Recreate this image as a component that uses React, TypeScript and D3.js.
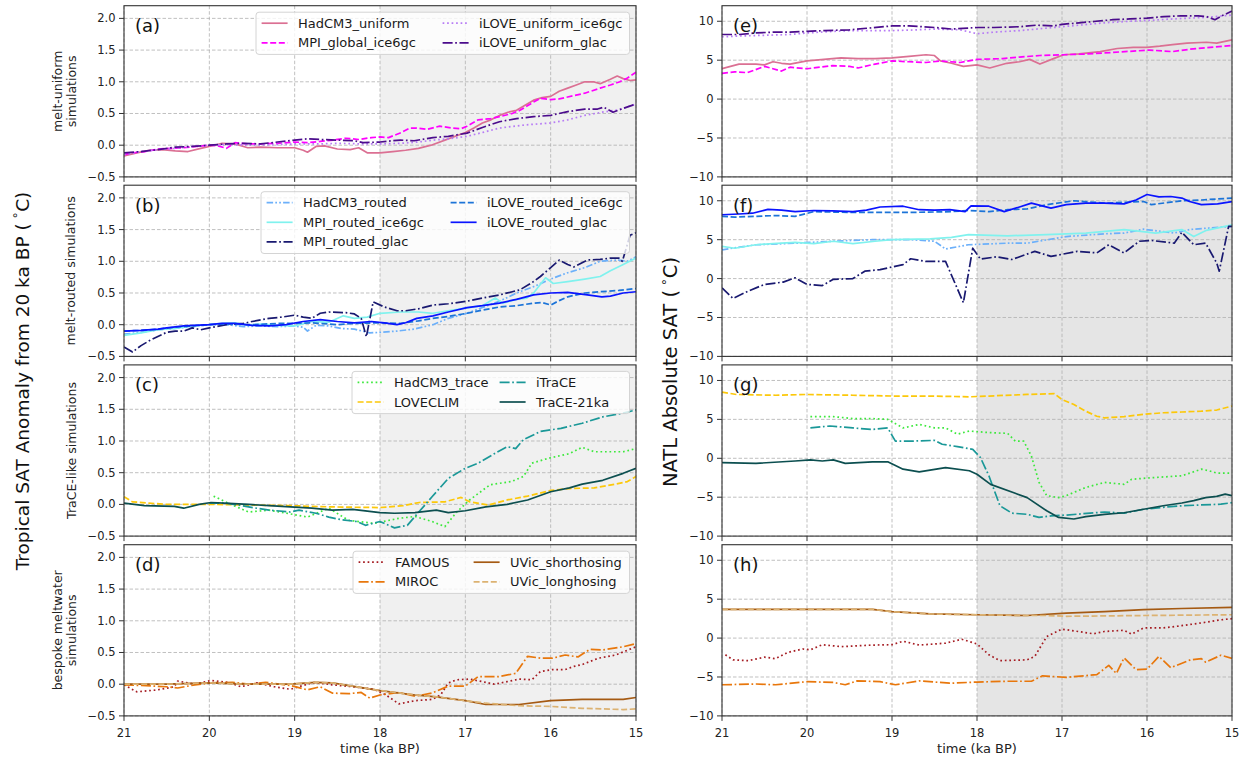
import React from "react";
import * as d3 from "d3";

type Pt = [number, number];

// ---------- axes / labels ----------
const timeTicks = [21, 20, 19, 18, 17, 16, 15];
const anomTicks = [-0.5, 0, 0.5, 1.0, 1.5, 2.0];
const absTicks = [-10, -5, 0, 5, 10];
const anomDomain: [number, number] = [-0.5, 2.2];
const absDomain: [number, number] = [-10, 12];
const shadeSpan: [number, number] = [18, 15];
const lettersLeft = ["(a)", "(b)", "(c)", "(d)"];
const lettersRight = ["(e)", "(f)", "(g)", "(h)"];
const groupLabels = [
  ["melt-uniform", "simulations"],
  ["melt-routed simulations"],
  ["TraCE-like simulations"],
  ["bespoke meltwater", "simulations"],
];
const groupSeries = [
  ["HadCM3_uniform", "MPI_global_ice6gc", "iLOVE_uniform_ice6gc", "iLOVE_uniform_glac"],
  ["HadCM3_routed", "MPI_routed_ice6gc", "MPI_routed_glac", "iLOVE_routed_ice6gc", "iLOVE_routed_glac"],
  ["HadCM3_trace", "LOVECLIM", "iTraCE", "TraCE-21ka"],
  ["FAMOUS", "MIROC", "UVic_shorthosing", "UVic_longhosing"],
];

// ---------- tropical anomaly series (panels a-d) ----------
const tropHadCM3Uniform: Pt[] = [[21,-0.17],[20.85,-0.12],[20.7,-0.08],[20.55,-0.07],[20.4,-0.09],[20.25,-0.1],[20.1,-0.05],[20.0,-0.02],[19.85,0.03],[19.7,0.02],[19.55,-0.04],[19.4,-0.03],[19.2,-0.04],[19.0,-0.04],[18.9,-0.08],[18.85,-0.11],[18.75,-0.02],[18.65,-0.01],[18.5,-0.06],[18.35,-0.07],[18.25,-0.04],[18.15,-0.12],[18.0,-0.12],[17.85,-0.1],[17.7,-0.08],[17.55,-0.05],[17.4,0.0],[17.2,0.1],[17.0,0.2],[16.9,0.27],[16.8,0.35],[16.7,0.4],[16.6,0.47],[16.5,0.52],[16.4,0.55],[16.3,0.63],[16.2,0.71],[16.1,0.75],[16.0,0.77],[15.9,0.85],[15.8,0.9],[15.7,0.95],[15.6,1.0],[15.5,1.0],[15.42,0.97],[15.3,1.04],[15.22,1.09],[15.15,1.05],[15.07,1.02],[15.0,1.03]];
const tropMPIGlobal: Pt[] = [[21,-0.15],[20.9,-0.12],[20.75,-0.1],[20.6,-0.06],[20.45,-0.05],[20.3,-0.04],[20.15,-0.02],[20.0,0.0],[19.9,-0.01],[19.8,-0.05],[19.7,0.04],[19.55,0.02],[19.4,0.02],[19.2,0.03],[19.0,0.05],[18.85,0.04],[18.7,0.06],[18.55,0.08],[18.4,0.11],[18.25,0.09],[18.1,0.12],[18.0,0.13],[17.9,0.12],[17.75,0.2],[17.65,0.27],[17.57,0.27],[17.45,0.25],[17.3,0.3],[17.15,0.27],[17.05,0.26],[16.98,0.3],[16.85,0.4],[16.7,0.42],[16.6,0.45],[16.45,0.5],[16.36,0.55],[16.2,0.68],[16.12,0.74],[16.0,0.72],[15.9,0.73],[15.8,0.76],[15.6,0.82],[15.42,0.9],[15.3,0.95],[15.19,1.0],[15.1,1.06],[15.0,1.15]];
const tropILOVEUniIce: Pt[] = [[21,-0.15],[20.8,-0.1],[20.6,-0.07],[20.4,-0.05],[20.2,-0.02],[20,0.0],[19.8,0.01],[19.5,0.0],[19.2,0.01],[19,0.02],[18.7,0.02],[18.5,0.03],[18.2,0.02],[18.0,0.02],[17.76,0.03],[17.55,0.05],[17.38,0.08],[17.2,0.1],[16.98,0.14],[16.8,0.2],[16.6,0.27],[16.3,0.32],[16.0,0.35],[15.8,0.4],[15.6,0.47],[15.4,0.52],[15.2,0.56],[15.0,0.65]];
const tropILOVEUniGlac: Pt[] = [[21,-0.12],[20.8,-0.1],[20.6,-0.07],[20.4,-0.03],[20.2,-0.02],[20.0,0.0],[19.8,0.02],[19.6,0.03],[19.4,0.02],[19.2,0.05],[19.0,0.08],[18.85,0.1],[18.7,0.09],[18.5,0.08],[18.3,0.07],[18.2,0.04],[18.0,0.05],[17.85,0.07],[17.76,0.08],[17.6,0.07],[17.38,0.12],[17.2,0.14],[16.98,0.19],[16.8,0.28],[16.6,0.37],[16.4,0.42],[16.2,0.45],[16.0,0.47],[15.8,0.53],[15.6,0.57],[15.45,0.57],[15.38,0.6],[15.27,0.52],[15.15,0.58],[15.0,0.65]];

const tropHadCM3Routed: Pt[] = [[21,-0.15],[20.8,-0.12],[20.6,-0.08],[20.4,-0.06],[20.2,-0.03],[20.0,0.0],[19.8,0.0],[19.6,-0.03],[19.4,-0.02],[19.2,-0.03],[19.0,-0.02],[18.9,-0.04],[18.85,-0.1],[18.75,-0.01],[18.6,-0.02],[18.45,-0.06],[18.3,-0.07],[18.12,-0.13],[18.0,-0.12],[17.8,-0.1],[17.6,-0.07],[17.38,0.0],[17.2,0.1],[16.98,0.18],[16.8,0.27],[16.6,0.37],[16.4,0.5],[16.2,0.6],[16.0,0.72],[15.8,0.82],[15.6,0.9],[15.42,1.0],[15.22,1.02],[15.1,1.0],[15.0,1.07]];
const tropMPIRoutedIce: Pt[] = [[21,-0.17],[20.8,-0.13],[20.6,-0.08],[20.4,-0.06],[20.2,-0.02],[20.0,0.0],[19.85,0.02],[19.7,0.03],[19.55,-0.01],[19.4,0.01],[19.2,-0.01],[19.0,-0.02],[18.8,0.05],[18.6,0.04],[18.43,0.14],[18.3,0.1],[18.15,0.12],[18.0,0.18],[17.76,0.2],[17.55,0.2],[17.38,0.18],[17.2,0.22],[17.0,0.26],[16.8,0.3],[16.65,0.42],[16.56,0.34],[16.4,0.4],[16.28,0.42],[16.2,0.5],[16.06,0.74],[15.97,0.65],[15.8,0.68],[15.6,0.72],[15.42,0.76],[15.3,0.85],[15.15,0.95],[15.0,1.05]];
const tropMPIRoutedGlac: Pt[] = [[21,-0.35],[20.9,-0.43],[20.8,-0.33],[20.7,-0.25],[20.5,-0.12],[20.4,-0.1],[20.3,-0.1],[20.2,-0.05],[20.1,-0.08],[20.0,-0.05],[19.8,0.0],[19.6,0.02],[19.5,0.05],[19.3,0.1],[19.15,0.12],[19.0,0.15],[18.9,0.12],[18.8,0.1],[18.7,0.18],[18.6,0.2],[18.4,0.19],[18.3,0.17],[18.22,0.1],[18.16,-0.19],[18.08,0.36],[17.95,0.28],[17.8,0.22],[17.7,0.22],[17.55,0.25],[17.38,0.31],[17.2,0.33],[16.98,0.37],[16.8,0.42],[16.6,0.47],[16.45,0.52],[16.36,0.55],[16.2,0.68],[16.12,0.76],[16.0,0.9],[15.9,1.02],[15.8,0.95],[15.73,0.91],[15.57,1.02],[15.42,1.03],[15.3,1.05],[15.2,1.05],[15.16,1.0],[15.07,1.41],[15.0,1.45]];
const tropILOVERoutedIce: Pt[] = [[21,-0.1],[20.8,-0.09],[20.6,-0.07],[20.4,-0.04],[20.2,-0.02],[20.0,0.0],[19.8,0.01],[19.5,0.0],[19.2,0.02],[19.0,0.02],[18.8,0.03],[18.5,0.0],[18.3,0.02],[18.0,0.03],[17.76,0.02],[17.55,0.06],[17.38,0.1],[17.2,0.13],[16.98,0.18],[16.8,0.23],[16.6,0.28],[16.4,0.3],[16.2,0.34],[16.1,0.35],[16.0,0.31],[15.9,0.38],[15.8,0.44],[15.6,0.5],[15.42,0.52],[15.2,0.54],[15.0,0.57]];
const tropILOVERoutedGlac: Pt[] = [[21,-0.1],[20.8,-0.09],[20.6,-0.07],[20.5,-0.05],[20.3,-0.02],[20.0,0.0],[19.85,0.02],[19.7,0.02],[19.5,-0.01],[19.3,-0.02],[19.1,0.0],[18.9,0.05],[18.7,0.08],[18.5,0.05],[18.3,0.03],[18.1,0.05],[17.95,0.03],[17.8,0.0],[17.7,0.03],[17.57,0.1],[17.38,0.14],[17.2,0.2],[16.98,0.27],[16.8,0.3],[16.6,0.34],[16.4,0.4],[16.2,0.47],[16.0,0.5],[15.8,0.51],[15.57,0.47],[15.4,0.44],[15.3,0.45],[15.15,0.5],[15.0,0.52]];

const tropHadCM3Trace: Pt[] = [[19.95,0.13],[19.78,0.02],[19.54,-0.12],[19.3,-0.09],[19.05,-0.15],[18.85,-0.2],[18.6,-0.06],[18.37,-0.25],[18.07,-0.3],[17.78,-0.22],[17.59,-0.19],[17.39,-0.27],[17.24,-0.35],[17.1,-0.12],[16.95,0.07],[16.71,0.31],[16.46,0.36],[16.32,0.44],[16.22,0.65],[16.02,0.73],[15.78,0.8],[15.63,0.9],[15.49,0.83],[15.15,0.83],[15.0,0.88]];
const tropLOVECLIM: Pt[] = [[21,0.12],[20.9,0.04],[20.5,0.0],[20.0,0.0],[19.54,-0.01],[19.05,-0.02],[18.56,-0.04],[18.0,-0.05],[17.73,-0.02],[17.54,0.03],[17.24,0.04],[17.05,0.11],[16.95,0.04],[16.73,-0.01],[16.51,0.07],[16.27,0.13],[16.0,0.22],[15.78,0.25],[15.49,0.26],[15.24,0.32],[15.1,0.36],[15.0,0.44]];
const tropITraCE: Pt[] = [[20.0,0.02],[19.8,0.02],[19.54,-0.04],[19.3,-0.09],[19.05,-0.12],[18.95,-0.09],[18.75,-0.14],[18.6,-0.2],[18.46,-0.24],[18.27,-0.27],[18.17,-0.33],[18.0,-0.27],[17.83,-0.37],[17.68,-0.33],[17.59,-0.19],[17.39,0.12],[17.2,0.41],[17.0,0.57],[16.85,0.65],[16.66,0.8],[16.51,0.91],[16.41,0.88],[16.32,1.02],[16.12,1.15],[15.88,1.2],[15.63,1.28],[15.39,1.38],[15.15,1.44],[15.0,1.49]];
const tropTraCE21ka: Pt[] = [[21,0.02],[20.76,-0.02],[20.41,-0.03],[20.3,-0.06],[20.12,0.0],[19.98,0.03],[19.83,0.02],[19.54,0.0],[19.3,-0.02],[19.05,-0.04],[18.8,-0.06],[18.56,-0.09],[18.32,-0.08],[18.0,-0.13],[17.83,-0.14],[17.59,-0.13],[17.34,-0.09],[17.2,-0.13],[17.0,-0.1],[16.76,-0.04],[16.51,0.0],[16.27,0.07],[16.0,0.2],[15.78,0.26],[15.63,0.32],[15.39,0.38],[15.15,0.49],[15.0,0.57]];

const tropFAMOUS: Pt[] = [[21,-0.01],[20.85,-0.12],[20.61,-0.09],[20.41,-0.04],[20.37,0.05],[20.17,0.0],[19.98,0.06],[19.78,0.03],[19.63,-0.04],[19.44,0.02],[19.24,-0.04],[19.05,-0.08],[18.85,0.0],[18.76,0.03],[18.56,-0.01],[18.32,-0.04],[18.07,-0.08],[17.93,-0.17],[17.78,-0.31],[17.59,-0.26],[17.39,-0.24],[17.29,-0.17],[17.2,0.02],[17.1,0.07],[16.95,0.08],[16.8,0.04],[16.66,0.0],[16.51,0.04],[16.37,0.08],[16.22,0.07],[16.12,0.2],[15.98,0.23],[15.83,0.23],[15.73,0.28],[15.63,0.31],[15.44,0.41],[15.24,0.46],[15.0,0.59]];
const tropMIROC: Pt[] = [[21,-0.01],[20.8,-0.02],[20.5,-0.04],[20.37,-0.06],[20.17,-0.01],[19.98,0.02],[19.73,0.03],[19.54,0.0],[19.34,0.03],[19.05,-0.02],[18.85,-0.09],[18.7,-0.04],[18.56,-0.14],[18.37,-0.15],[18.22,-0.13],[18.12,-0.22],[18.0,-0.17],[17.78,-0.13],[17.59,-0.19],[17.39,-0.14],[17.2,-0.03],[17.0,-0.03],[16.85,0.12],[16.61,0.12],[16.41,0.17],[16.27,0.44],[16.12,0.41],[15.98,0.41],[15.83,0.46],[15.68,0.43],[15.54,0.55],[15.39,0.54],[15.15,0.59],[15.0,0.64]];
const tropUVicShort: Pt[] = [[21,0.0],[20.5,0.0],[20.0,0.02],[19.54,0.0],[19.05,0.0],[18.76,0.03],[18.56,0.02],[18.0,-0.1],[17.59,-0.17],[17.34,-0.2],[17.0,-0.26],[16.76,-0.32],[16.37,-0.32],[16.0,-0.26],[15.63,-0.24],[15.15,-0.24],[15.0,-0.21]];
const tropUVicLong: Pt[] = [[21,0.0],[20.5,0.0],[20.0,0.02],[19.54,0.0],[19.05,0.0],[18.76,0.03],[18.56,0.02],[18.0,-0.1],[17.59,-0.17],[17.34,-0.2],[17.0,-0.26],[16.76,-0.3],[16.37,-0.34],[16.0,-0.35],[15.63,-0.38],[15.15,-0.4],[15.0,-0.39]];

// ---------- NATL absolute series (panels e-h) ----------
const natlHadCM3Uniform: Pt[] = [[21,3.9],[20.9,4.2],[20.8,4.5],[20.6,4.5],[20.5,4.4],[20.4,4.8],[20.3,4.6],[20.2,4.5],[20.0,4.9],[19.8,5.1],[19.6,5.3],[19.4,5.2],[19.2,5.2],[19.0,5.3],[18.8,5.5],[18.6,5.7],[18.5,5.6],[18.43,4.9],[18.3,4.6],[18.16,4.2],[18.0,4.4],[17.85,4.0],[17.65,4.6],[17.5,4.8],[17.38,5.1],[17.26,4.5],[17.1,5.2],[16.98,5.7],[16.8,5.8],[16.55,6.1],[16.35,6.5],[16.16,6.65],[16.0,6.65],[15.85,6.8],[15.7,7.0],[15.53,7.2],[15.3,7.3],[15.18,7.2],[15.0,7.6]];
const natlMPIGlobal: Pt[] = [[21,3.3],[20.85,3.5],[20.7,3.4],[20.5,4.2],[20.3,3.6],[20.2,4.1],[20.0,3.9],[19.85,4.1],[19.7,4.3],[19.5,4.2],[19.4,4.0],[19.2,4.5],[19.0,4.9],[18.8,4.8],[18.6,4.7],[18.43,4.9],[18.2,4.7],[18.0,5.1],[17.7,5.2],[17.5,5.4],[17.26,5.6],[16.98,5.7],[16.7,5.8],[16.4,6.0],[15.97,6.3],[15.7,6.1],[15.5,6.4],[15.3,6.6],[15.0,6.9]];
const natlILOVEUniIce: Pt[] = [[21,8.0],[20.8,8.1],[20.5,8.2],[20.2,8.3],[20,8.5],[19.7,8.7],[19.5,8.8],[19.0,8.8],[18.7,8.9],[18.5,9.0],[18.2,8.9],[18.0,8.4],[17.8,8.6],[17.5,8.8],[17.3,9.0],[17.0,9.3],[16.7,9.6],[16.5,9.8],[16.2,10.0],[16.0,10.1],[15.7,10.3],[15.5,10.4],[15.3,10.5],[15.0,10.8]];
const natlILOVEUniGlac: Pt[] = [[21,8.3],[20.8,8.3],[20.6,8.5],[20.4,8.6],[20.2,8.6],[20,8.7],[19.8,8.8],[19.5,8.9],[19.3,9.1],[19.0,9.4],[18.8,9.4],[18.5,9.2],[18.3,9.0],[18.0,9.2],[17.8,9.2],[17.5,9.3],[17.3,9.5],[17.1,9.4],[17.0,9.6],[16.8,9.8],[16.6,10.0],[16.4,10.2],[16.2,10.3],[16.0,10.4],[15.8,10.6],[15.6,10.7],[15.4,10.7],[15.3,10.6],[15.2,10.2],[15.1,10.8],[15.0,11.3]];

const natlHadCM3Routed: Pt[] = [[21,3.7],[20.6,4.35],[20.14,4.55],[19.69,4.8],[19.23,5.0],[18.78,5.0],[18.5,4.8],[18.37,3.8],[18.1,4.35],[17.64,4.55],[17.41,4.55],[16.95,5.4],[16.5,5.75],[16.27,5.85],[16.04,6.35],[15.68,5.85],[15.5,6.3],[15.27,6.5],[15.0,6.7]];
const natlMPIRoutedIce: Pt[] = [[21,4.15],[20.85,3.9],[20.6,4.35],[20.4,4.5],[20.14,4.65],[19.92,4.5],[19.69,4.8],[19.46,4.5],[19.2,4.8],[19.0,5.0],[18.55,5.1],[18.3,5.3],[18.1,5.65],[17.64,5.5],[17.18,5.65],[16.72,5.85],[16.27,6.3],[16.1,6.1],[15.9,5.85],[15.59,6.3],[15.45,5.4],[15.3,6.2],[15.0,6.9]];
const natlMPIRoutedGlac: Pt[] = [[21,-1.2],[20.87,-2.55],[20.69,-1.6],[20.5,-0.75],[20.28,-0.45],[20.14,0.1],[20.0,-0.75],[19.82,-0.9],[19.69,-0.1],[19.46,0.0],[19.32,0.95],[19.14,1.15],[18.87,1.8],[18.78,2.55],[18.6,2.2],[18.37,2.2],[18.16,-3.1],[18.05,3.9],[17.96,2.5],[17.77,2.8],[17.59,2.45],[17.32,3.5],[17.13,2.85],[16.82,3.5],[16.59,3.3],[16.45,4.35],[16.27,3.3],[16.09,4.8],[15.95,4.9],[15.68,4.55],[15.59,5.95],[15.45,4.35],[15.31,4.55],[15.18,2.0],[15.15,0.95],[15.04,6.7],[15.0,6.7]];
const natlILOVERoutedIce: Pt[] = [[21,8.0],[20.85,7.9],[20.6,8.0],[20.37,8.1],[20.14,8.0],[19.92,8.6],[19.46,8.5],[18.78,8.5],[18.3,8.6],[18.1,8.75],[17.86,8.6],[17.64,8.85],[17.41,8.95],[17.18,9.5],[16.86,10.0],[16.5,9.7],[16.04,9.9],[15.95,9.5],[15.59,10.0],[15.36,10.1],[15.0,10.35]];
const natlILOVERoutedGlac: Pt[] = [[21,8.2],[20.8,8.3],[20.64,8.4],[20.46,8.9],[20.3,8.8],[20.14,8.6],[19.92,8.75],[19.7,8.7],[19.46,8.6],[19.3,8.8],[19.14,9.2],[18.87,9.3],[18.68,8.85],[18.5,8.8],[18.32,8.85],[18.14,8.6],[18.07,9.35],[17.86,9.3],[17.68,8.6],[17.5,9.2],[17.36,9.7],[17.13,9.05],[16.95,9.5],[16.72,9.7],[16.5,9.7],[16.27,9.6],[16.13,10.1],[16.0,10.8],[15.86,10.5],[15.72,10.55],[15.59,10.35],[15.5,9.9],[15.36,9.5],[15.17,9.6],[15.0,9.9]];

const natlHadCM3Trace: Pt[] = [[19.96,5.35],[19.69,5.35],[19.46,5.1],[19.23,5.1],[19.05,5.0],[18.87,3.9],[18.68,4.35],[18.5,3.9],[18.37,3.9],[18.23,3.1],[18.09,3.5],[17.86,3.3],[17.64,3.2],[17.55,2.2],[17.45,2.2],[17.36,0.3],[17.27,-3.1],[17.18,-4.8],[17.04,-5.05],[16.95,-4.8],[16.72,-3.75],[16.5,-3.1],[16.27,-3.35],[16.18,-2.7],[15.95,-2.5],[15.59,-2.25],[15.36,-1.4],[15.27,-1.6],[15.18,-1.9],[15.0,-1.9]];
const natlLOVECLIM: Pt[] = [[21,8.5],[20.83,8.2],[20.37,8.1],[20.0,8.2],[19.46,8.1],[19.0,8.0],[18.55,8.0],[18.09,7.9],[17.86,8.0],[17.41,8.2],[17.09,8.3],[17.0,7.55],[16.86,6.9],[16.72,6.05],[16.59,5.4],[16.5,5.2],[16.27,5.35],[16.04,5.65],[15.81,5.85],[15.59,5.95],[15.36,6.05],[15.18,6.2],[15.0,6.7]];
const natlITraCE: Pt[] = [[19.96,3.9],[19.73,4.15],[19.46,3.9],[19.23,3.7],[19.05,3.9],[18.96,2.2],[18.78,2.2],[18.5,2.3],[18.41,1.8],[18.23,1.5],[18.05,1.15],[17.96,0.1],[17.86,-2.25],[17.73,-6.1],[17.59,-7.05],[17.41,-7.2],[17.27,-7.6],[17.13,-7.4],[16.95,-7.3],[16.5,-6.9],[16.27,-7.05],[16.04,-6.55],[15.81,-6.3],[15.59,-6.1],[15.36,-6.0],[15.13,-5.9],[15.0,-5.7]];
const natlTraCE21ka: Pt[] = [[21,-0.55],[20.6,-0.65],[20.14,-0.35],[19.96,-0.2],[19.82,-0.35],[19.69,-0.2],[19.55,-0.65],[19.23,-0.45],[19.05,-0.45],[18.87,-1.4],[18.68,-1.75],[18.37,-1.2],[18.09,-1.6],[18.0,-2.05],[17.84,-3.35],[17.55,-4.5],[17.41,-5.05],[17.18,-6.75],[17.04,-7.6],[16.86,-7.8],[16.72,-7.5],[16.5,-7.2],[16.27,-7.0],[16.04,-6.55],[15.81,-6.1],[15.59,-5.75],[15.45,-5.45],[15.31,-5.05],[15.18,-4.9],[15.08,-4.6],[15.0,-4.8]];

const natlFAMOUS: Pt[] = [[20.96,-2.15],[20.87,-2.8],[20.69,-2.9],[20.5,-2.45],[20.37,-2.65],[20.23,-1.85],[20.05,-1.4],[19.96,-1.5],[19.82,-0.85],[19.6,-1.1],[19.23,-0.9],[19.0,-0.85],[18.87,-0.4],[18.68,-0.9],[18.37,-0.65],[18.18,-0.15],[18.0,-0.75],[17.86,-2.15],[17.73,-2.9],[17.41,-2.8],[17.32,-2.35],[17.18,0.2],[17.0,1.15],[16.81,0.85],[16.63,0.55],[16.5,0.85],[16.27,1.0],[16.18,0.5],[16.04,1.3],[15.81,1.3],[15.59,1.6],[15.36,1.95],[15.13,2.35],[15.0,2.5]];
const natlMIROC: Pt[] = [[21,-6.0],[20.6,-5.9],[20.37,-6.0],[20.0,-5.6],[19.69,-5.7],[19.55,-6.0],[19.41,-5.5],[19.14,-5.6],[18.96,-6.0],[18.68,-5.5],[18.32,-5.8],[18.0,-5.65],[17.64,-5.55],[17.36,-5.55],[17.23,-4.85],[16.95,-5.05],[16.59,-4.7],[16.45,-3.5],[16.36,-4.55],[16.27,-2.55],[16.13,-4.05],[16.0,-4.0],[15.86,-2.35],[15.72,-3.8],[15.49,-2.8],[15.36,-2.65],[15.31,-3.1],[15.13,-2.2],[15.0,-2.6]];
const natlUVicShort: Pt[] = [[21,3.7],[20.0,3.7],[19.23,3.7],[19.0,3.4],[18.55,3.1],[18.0,3.0],[17.41,2.9],[16.95,3.2],[16.5,3.4],[16.04,3.65],[15.59,3.8],[15.0,3.95]];
const natlUVicLong: Pt[] = [[21,3.7],[20.0,3.7],[19.23,3.7],[19.0,3.4],[18.55,3.1],[18.0,3.0],[17.41,2.9],[17.18,2.9],[16.95,2.8],[16.04,2.9],[15.0,3.0]];

const tropData: Record<string, Pt[]> = {
  HadCM3_uniform: tropHadCM3Uniform, MPI_global_ice6gc: tropMPIGlobal,
  iLOVE_uniform_ice6gc: tropILOVEUniIce, iLOVE_uniform_glac: tropILOVEUniGlac,
  HadCM3_routed: tropHadCM3Routed, MPI_routed_ice6gc: tropMPIRoutedIce, MPI_routed_glac: tropMPIRoutedGlac,
  iLOVE_routed_ice6gc: tropILOVERoutedIce, iLOVE_routed_glac: tropILOVERoutedGlac,
  HadCM3_trace: tropHadCM3Trace, LOVECLIM: tropLOVECLIM, iTraCE: tropITraCE, "TraCE-21ka": tropTraCE21ka,
  FAMOUS: tropFAMOUS, MIROC: tropMIROC, UVic_shorthosing: tropUVicShort, UVic_longhosing: tropUVicLong,
};
const natlData: Record<string, Pt[]> = {
  HadCM3_uniform: natlHadCM3Uniform, MPI_global_ice6gc: natlMPIGlobal,
  iLOVE_uniform_ice6gc: natlILOVEUniIce, iLOVE_uniform_glac: natlILOVEUniGlac,
  HadCM3_routed: natlHadCM3Routed, MPI_routed_ice6gc: natlMPIRoutedIce, MPI_routed_glac: natlMPIRoutedGlac,
  iLOVE_routed_ice6gc: natlILOVERoutedIce, iLOVE_routed_glac: natlILOVERoutedGlac,
  HadCM3_trace: natlHadCM3Trace, LOVECLIM: natlLOVECLIM, iTraCE: natlITraCE, "TraCE-21ka": natlTraCE21ka,
  FAMOUS: natlFAMOUS, MIROC: natlMIROC, UVic_shorthosing: natlUVicShort, UVic_longhosing: natlUVicLong,
};

// ---------- styles ----------
const LW = 1.7;
const DASHED = "6,2.6";
const DOTTED = "1.7,2.8";
const DASHDOT = "10,2.6,1.7,2.6";
const DASHDOTDOT = "6.5,2.2,1.7,2.2,1.7,2.2";
const seriesStyle: Record<string, { color: string; dash: string | null }> = {
  HadCM3_uniform: { color: "#db7093", dash: null },
  MPI_global_ice6gc: { color: "#ff00ff", dash: DASHED },
  iLOVE_uniform_ice6gc: { color: "#b77cf5", dash: DOTTED },
  iLOVE_uniform_glac: { color: "#4b0c8c", dash: DASHDOT },
  HadCM3_routed: { color: "#6cb0fa", dash: DASHDOTDOT },
  MPI_routed_ice6gc: { color: "#80f2ee", dash: null },
  MPI_routed_glac: { color: "#191970", dash: DASHDOT },
  iLOVE_routed_ice6gc: { color: "#1c74d8", dash: DASHED },
  iLOVE_routed_glac: { color: "#0a14ff", dash: null },
  HadCM3_trace: { color: "#3de83d", dash: DOTTED },
  LOVECLIM: { color: "#fcc80a", dash: DASHED },
  iTraCE: { color: "#1a9898", dash: DASHDOT },
  "TraCE-21ka": { color: "#0c4f50", dash: null },
  FAMOUS: { color: "#a51c22", dash: DOTTED },
  MIROC: { color: "#e8770c", dash: DASHDOT },
  UVic_shorthosing: { color: "#a55a13", dash: null },
  UVic_longhosing: { color: "#dcb272", dash: DASHED },
};

// ---------- layout ----------
const W = 1248, H = 761;
const rowTop = [5.7, 185.2, 364.9, 544.7];
const rowH = 171.2;
const colLeft = [124, 722];
const colRight = [636, 1232];
const legendLeft = [256, 261, 352, 353];
const legendText = [[298, 479], [303, 487], [394, 536], [395, 510]];
const FONT = "DejaVu Sans, sans-serif";

const fmtTick = (v: number, col: number) => {
  const s = col === 0 ? v.toFixed(1) : String(v);
  return s.replace("-", "\u2212");
};

function Panel({ row, col }: { row: number; col: number }) {
  const x0 = colLeft[col], x1 = colRight[col];
  const y0 = rowTop[row], y1 = y0 + rowH;
  const xs = d3.scaleLinear().domain([21, 15]).range([x0, x1]);
  const ys = d3.scaleLinear().domain(col === 0 ? anomDomain : absDomain).range([y1, y0]);
  const yt = col === 0 ? anomTicks : absTicks;
  const data = col === 0 ? tropData : natlData;
  const names = groupSeries[row];
  const line = d3.line<Pt>().x((d) => xs(d[0])).y((d) => ys(d[1]));
  const clipId = `clip-${row}-${col}`;
  const shadeFill = col === 0 ? "#f0f0f0" : "#e5e5e5";
  const letter = col === 0 ? lettersLeft[row] : lettersRight[row];

  let legend = null;
  if (col === 0) {
    const nRows = Math.ceil(names.length / 2);
    const top = y0 + 6.5;
    const boxH = nRows * 19.6 + 3;
    const left = legendLeft[row];
    const right = x1 - 6.5;
    legend = (
      <g>
        <rect x={left} y={top} width={right - left} height={boxH} rx={3} fill="#ffffff" fillOpacity={0.8} stroke="#d4d4d4" strokeWidth={1} />
        {names.map((n, i) => {
          const c = Math.floor(i / nRows);
          const r = i % nRows;
          const tx = legendText[row][c];
          const cy = top + 11 + r * 19.6;
          const st = seriesStyle[n];
          return (
            <g key={n}>
              <line x1={tx - 36.4} x2={tx - 10.4} y1={cy} y2={cy} stroke={st.color} strokeWidth={LW} strokeDasharray={st.dash || undefined} />
              <text x={tx} y={cy} dominantBaseline="central" fontSize={13} fill="#1a1a1a" fontFamily={FONT}>{n}</text>
            </g>
          );
        })}
      </g>
    );
  }

  return (
    <g>
      <defs>
        <clipPath id={clipId}>
          <rect x={x0} y={y0} width={x1 - x0} height={y1 - y0} />
        </clipPath>
      </defs>
      <rect x={x0} y={y0} width={x1 - x0} height={y1 - y0} fill="#ffffff" />
      <rect x={xs(shadeSpan[0])} y={y0} width={xs(shadeSpan[1]) - xs(shadeSpan[0])} height={y1 - y0} fill={shadeFill} />
      {timeTicks.map((t) => (
        <line key={"gx" + t} x1={xs(t)} x2={xs(t)} y1={y0} y2={y1} stroke="#b0b0b0" strokeWidth={0.8} strokeDasharray="3.5,2" />
      ))}
      {yt.map((v) => (
        <line key={"gy" + v} x1={x0} x2={x1} y1={ys(v)} y2={ys(v)} stroke="#b0b0b0" strokeWidth={0.8} strokeDasharray="3.5,2" />
      ))}
      <g clipPath={`url(#${clipId})`}>
        {names.map((n) => {
          const st = seriesStyle[n];
          return (
            <path key={n} d={line(data[n]) || ""} fill="none" stroke={st.color} strokeWidth={LW}
              strokeDasharray={st.dash || undefined} strokeLinejoin="round" />
          );
        })}
      </g>
      <rect x={x0} y={y0} width={x1 - x0} height={y1 - y0} fill="none" stroke="#333333" strokeWidth={1.1} />
      {yt.map((v) => (
        <g key={"ty" + v}>
          <line x1={x0 - 5} x2={x0} y1={ys(v)} y2={ys(v)} stroke="#333333" strokeWidth={1} />
          <text x={x0 - 8.5} y={ys(v)} textAnchor="end" dominantBaseline="central" fontSize={11.5} fill="#222" fontFamily={FONT}>
            {fmtTick(v, col)}
          </text>
        </g>
      ))}
      {timeTicks.map((t) => (
        <g key={"tx" + t}>
          <line x1={xs(t)} x2={xs(t)} y1={y1} y2={y1 + 5} stroke="#333333" strokeWidth={1} />
          {row === 3 && (
            <text x={xs(t)} y={y1 + 17} textAnchor="middle" dominantBaseline="central" fontSize={11.5} fill="#222" fontFamily={FONT}>
              {t}
            </text>
          )}
        </g>
      ))}
      {row === 3 && (
        <text x={(x0 + x1) / 2} y={y1 + 33} textAnchor="middle" dominantBaseline="central" fontSize={13} fill="#222" fontFamily={FONT}>
          time (ka BP)
        </text>
      )}
      <text x={x0 + 11} y={y0 + 20} dominantBaseline="central" fontSize={18} fill="#111" fontFamily={FONT}>{letter}</text>
      {legend}
      {col === 0 && (() => {
        const lines = groupLabels[row];
        const cy = (y0 + y1) / 2;
        const xsPos = lines.length === 2 ? [58, 72] : [71];
        return lines.map((s, i) => (
          <text key={s} x={xsPos[i]} y={cy} transform={`rotate(-90 ${xsPos[i]} ${cy})`} textAnchor="middle"
            dominantBaseline="central" fontSize={12.5} fill="#222" fontFamily={FONT}>{s}</text>
        ));
      })()}
    </g>
  );
}

export default function App() {
  const rows = [0, 1, 2, 3];
  return (
    <svg width={W} height={H} viewBox={`0 0 ${W} ${H}`} style={{ position: "absolute", left: 0, top: 0, background: "#fff" }}>
      <rect x={0} y={0} width={W} height={H} fill="#ffffff" />
      {rows.map((r) => <Panel key={"l" + r} row={r} col={0} />)}
      {rows.map((r) => <Panel key={"r" + r} row={r} col={1} />)}
      <text x={22} y={381} transform="rotate(-90 22 381)" textAnchor="middle" dominantBaseline="central" fontSize={18.5} fill="#111" fontFamily={FONT}>
        Tropical SAT Anomaly from 20 ka BP (<tspan dx="4" dy="-7" fontSize={12}>{"\u2218"}</tspan><tspan dy="7">C)</tspan>
      </text>
      <text x={670} y={372} transform="rotate(-90 670 372)" textAnchor="middle" dominantBaseline="central" fontSize={19.5} fill="#111" fontFamily={FONT}>
        NATL Absolute SAT (<tspan dx="4" dy="-7" fontSize={12.5}>{"\u2218"}</tspan><tspan dy="7">C)</tspan>
      </text>
    </svg>
  );
}
